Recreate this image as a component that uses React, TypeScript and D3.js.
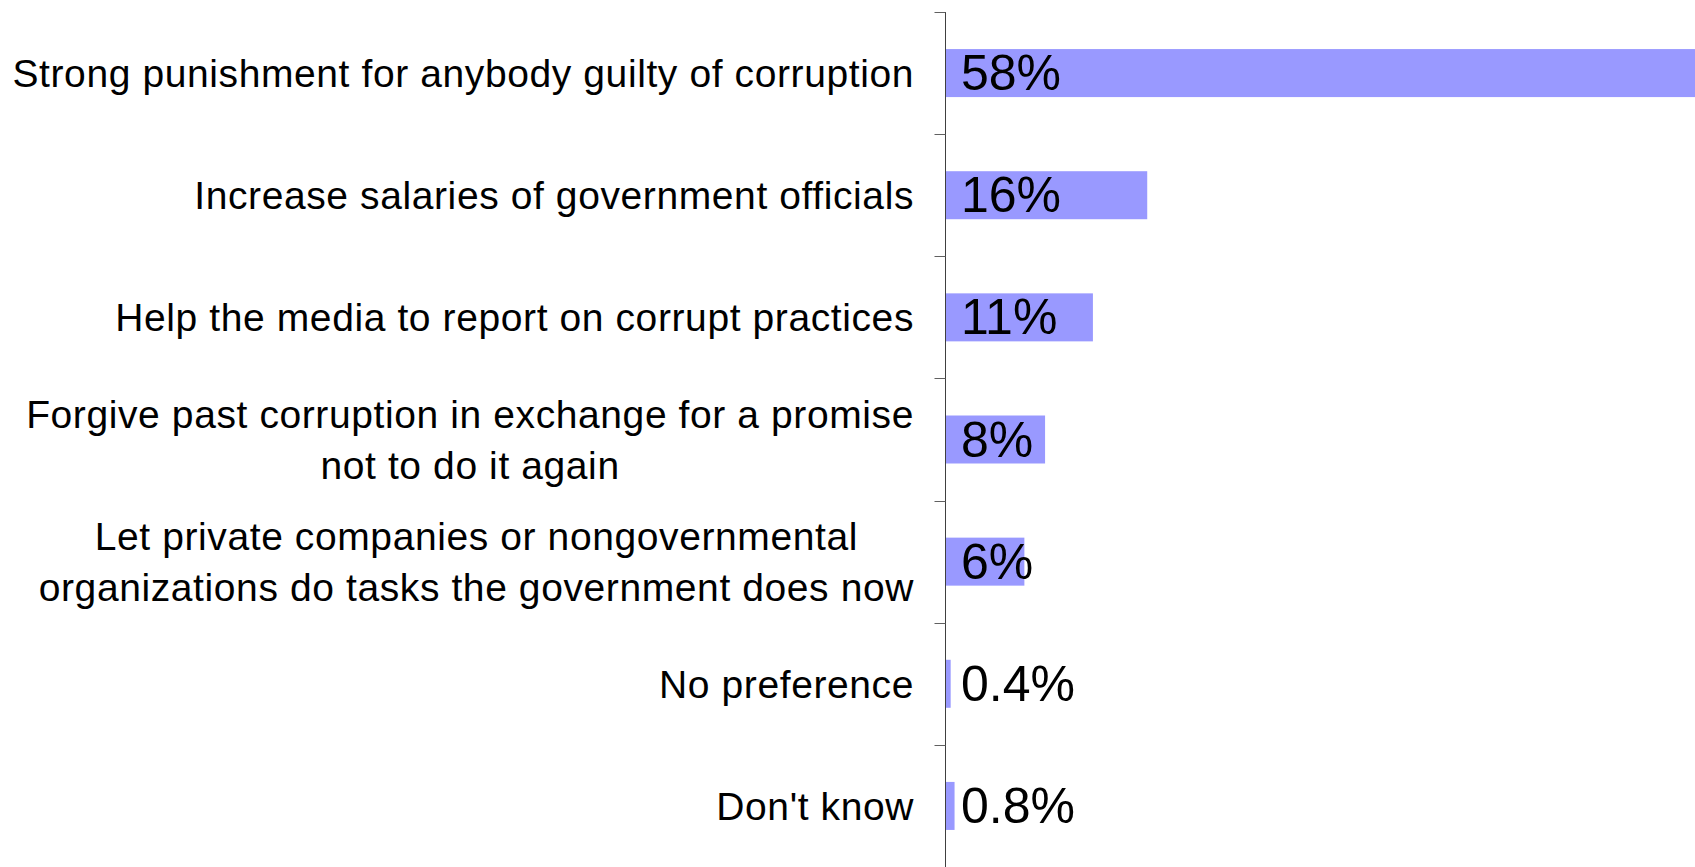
import React, { useEffect, useRef } from "react";
import * as d3 from "d3";

// categories, one line per entry (multi-line labels split into lines)
const categories: string[][] = [
  ["Strong punishment for anybody guilty of corruption"],
  ["Increase salaries of government officials"],
  ["Help the media to report on corrupt practices"],
  ["Forgive past corruption in exchange for a promise", "not to do it again"],
  ["Let private companies or nongovernmental", "organizations do tasks the government does now"],
  ["No preference"],
  ["Don't know"],
];
// bar lengths (labels are the rounded figures)
const values: number[] = [58, 15.6, 11.4, 7.7, 6.1, 0.4, 0.7];
const valueLabels: string[] = ["58%", "16%", "11%", "8%", "6%", "0.4%", "0.8%"];

const W = 1695;
const H = 867;
const FONT = "'Liberation Sans', Arial, Helvetica, sans-serif";

export default function App() {
  const ref = useRef<SVGSVGElement>(null);

  useEffect(() => {
    if (!ref.current) return;
    const svg = d3.select(ref.current);
    svg.selectAll("*").remove();

    const axisX = 945.5;
    const top = 12;
    const bottom = H;

    const idx = categories.map((_, i) => String(i));
    const y = d3.scaleBand<string>()
      .domain(idx)
      .range([top, bottom])
      .paddingInner(0.607)
      .paddingOuter(0.3035);
    const x = d3.scaleLinear().domain([0, 58]).range([axisX, axisX + 750]);

    // bars
    svg.append("g")
      .selectAll("rect")
      .data(values)
      .enter()
      .append("rect")
      .attr("x", x(0))
      .attr("y", (d, i) => y(String(i))!)
      .attr("width", (d) => x(d) - x(0))
      .attr("height", y.bandwidth())
      .attr("fill", "#9999ff");

    // axis line + ticks
    const step = y.step();
    svg.append("line")
      .attr("x1", axisX).attr("x2", axisX)
      .attr("y1", top).attr("y2", bottom)
      .attr("stroke", "#404040")
      .attr("stroke-width", 1);
    svg.append("g")
      .selectAll("line")
      .data(d3.range(categories.length + 1))
      .enter()
      .append("line")
      .attr("x1", axisX - 11).attr("x2", axisX)
      .attr("y1", (i) => Math.round(top + i * step) + 0.5)
      .attr("y2", (i) => Math.round(top + i * step) + 0.5)
      .attr("stroke", "#606060")
      .attr("stroke-width", 1);

    // category labels
    const labelRight = 914;
    const lineH = 51;
    categories.forEach((lines, i) => {
      const cy = y(String(i))! + y.bandwidth() / 2;
      const g = svg.append("g");
      const texts = lines.map((ln, j) =>
        g.append("text")
          .attr("y", cy + 14 + (j - (lines.length - 1) / 2) * lineH)
          .style("font-family", FONT)
          .style("font-size", "39px")
          .style("letter-spacing", "0.6px")
          .attr("fill", "#000")
          .text(ln)
      );
      if (lines.length === 1) {
        texts[0].attr("x", labelRight).attr("text-anchor", "end");
      } else {
        const maxW = d3.max(texts, (t) => (t.node() as SVGTextElement).getComputedTextLength()) || 0;
        texts.forEach((t) => t.attr("x", labelRight - maxW / 2).attr("text-anchor", "middle"));
      }
    });

    // value labels
    svg.append("g")
      .selectAll("text")
      .data(valueLabels)
      .enter()
      .append("text")
      .attr("x", 961)
      .attr("y", (d, i) => y(String(i))! + y.bandwidth() / 2 + 17)
      .style("font-family", FONT)
      .style("font-size", "50px")
      .attr("fill", "#000")
      .text((d) => d);
  }, []);

  return (
    <svg
      ref={ref}
      width={W}
      height={H}
      style={{ position: "absolute", left: 0, top: 0, background: "#fff" }}
    />
  );
}
